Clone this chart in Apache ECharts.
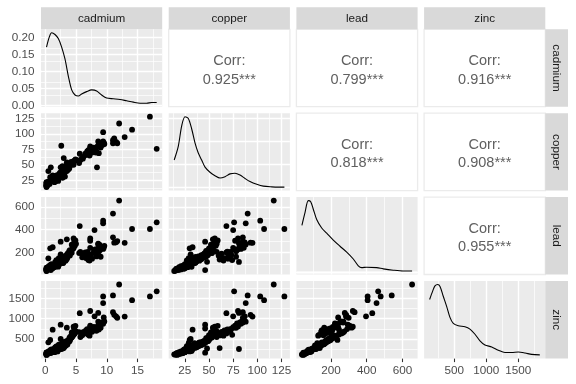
<!DOCTYPE html>
<html><head><meta charset="utf-8">
<script src="https://cdn.jsdelivr.net/npm/echarts@6/dist/echarts.min.js"></script>
<style>html,body{margin:0;padding:0;background:#fff}#c{width:576px;height:384px}</style>
</head><body><div id="c"></div>
<script>
// ---- data ----
const variables = ['cadmium', 'copper', 'lead', 'zinc'];

const cadmium = [
 0.2,0.2,0.2,0.2,0.3,0.2,0.4,0.2,0.5,0.2, 0.8,0.2,0.9,0.4,1.0,0.2,1.2,1.3,0.7,1.6,
 1.4,0.5,1.5,1.1,2.0,1.4,0.6,1.3,1.6,0.9, 1.8,1.7,1.2,2.0,0.8,1.9,2.1,1.5,2.2,1.0,
 1.8,2.3,2.6,1.4,2.4,2.8,1.7,2.2,3.0,2.5, 1.9,2.7,2.0,2.9,1.6,2.4,2.1,2.6,3.1,1.8,
 2.3,2.0,2.8,3.3,2.5,2.9,3.2,2.4,2.7,3.4, 2.2,3.0,3.6,2.6,3.1,3.5,2.8,3.3,2.8,2.8,
 3.4,0.5,3.7,3.2,3.9,3.5,0.8,3.6,4.0,3.8, 2.5,4.1,3.9,4.3,4.0,4.4,4.2,4.6,4.5,4.8,
 4.3,5.0,1.2,4.7,3.5,4.6,2.5,4.9,
 5.5,6.0,6.1,6.5,6.6,7.0,7.1,8.7,6.8,7.4, 7.6,7.9,8.1,8.3,8.5,8.9,9.2,8.4,6.2,7.3,
 9.6,8.8,7.3,6.9,9.0,5.7,7.2,9.4,8.2,8.6,
 12.0,18.1,17.0,9.4,11.0,14.1,9.4,5.6,7.3,8.6,8.0,9.5,11.0,11.2,11.5,11.7,12.9
];
const copper = [
 17,15,14,18,16,20,19,16,22,21, 23,17,46,20,24,22,25,24,19,24,
 25,23,22,26,30,26,21,27,32,23, 26,24,28,27,25,29,24,30,31,27,
 25,33,81,28,30,48,32,29,61,34, 31,36,33,35,28,37,30,38,36,33,
 35,27,39,40,32,35,31,37,41,42, 34,38,43,36,44,40,39,45,35,29,
 46,40,42,47,44,49,30,45,48,50, 31,51,47,53,49,52,55,50,54,57,
 52,58,33,56,54,56,46,59,
 53,62,60,68,66,74,69,69,72,73, 70,78,76,72,80,79,82,46,63,75,
 84,85,77,72,78,58,65,83,70,88,
 117,76,128,103,90,107,88,68,80,81,75,86,85,93,87,85,95
];
const lead = [
 45,39,37,48,50,54,47,55,60,51, 62,58,45,64,56,66,60,67,70,80,
 86,72,76,68,90,75,79,73,74,81, 84,85,70,92,88,78,75,95,89,98,
 97,102,116,91,108,117,99,112,137,104, 118,110,122,106,114,120,109,128,124,131,
 116,130,141,127,136,110,132,133,145,139, 150,147,156,160,152,142,165,158,123,150,
 170,148,175,165,181,178,236,190,172,198, 183,205,212,196,220,228,215,236,245,258,
 268,275,245,290,315,322,294,305,
 194,157,170,199,150,133,148,207,162,180, 145,210,226,165,230,222,250,195,189,240,
 258,268,302,205,162,205,128,230,185,270,
 654,464,405,478,540,405,455,431,322,277,396,240,332,285,288,299,284
];
const zinc = [
 113,119,126,131,136,140,142,145,150,155, 158,162,167,167,172,176,180,180,183,183,
 189,190,194,196,198,200,199,207,208,210, 213,218,222,224,228,232,240,241,245,248,
 251,254,257,260,263,269,272,275,281,283, 286,290,293,296,298,299,305,310,314,318,
 321,326,330,334,338,343,346,347,352,358, 362,365,370,375,381,386,392,397,402,406,
 412,421,427,435,442,450,480,458,466,477, 504,512,525,537,550,566,582,598,615,640,
 662,690,731,745,780,805,854,826,
 673,593,640,640,711,606,711,735,746,746, 680,801,784,703,812,887,907,760,676,793,
 933,906,833,685,778,549,585,875,722,928,
 1839,1672,1548,1548,1571,1454,1383,1136,1190,1141,1060,1032,1161,1096,1058,1022,1052
];

// density curves on the diagonal, [value, density]
const cadmiumDensity = [[0.2,0.172],[0.66,0.202],[1.04,0.214],[1.58,0.209],[2.12,0.197],[2.66,0.172],[3.2,0.137],[3.75,0.086],[4.29,0.046],[4.83,0.031],[5.37,0.028],[5.91,0.034],[6.72,0.041],[7.54,0.046],[8.35,0.043],[9.16,0.031],[9.97,0.022],[11.06,0.020],[12.14,0.018],[13.22,0.014],[14.3,0.010],[15.39,0.007],[16.47,0.007],[17.28,0.009],[18.1,0.009]];
const copperDensity = [[14,0.0118],[18.2,0.0177],[21.8,0.0267],[25.2,0.0305],[28.6,0.0297],[32.1,0.0252],[35.5,0.0192],[38.9,0.0148],[42.4,0.0118],[45.9,0.0087],[51,0.0065],[56.2,0.0050],[61.4,0.0040],[66.6,0.0046],[71.7,0.0058],[76.9,0.0061],[82.1,0.0053],[87.3,0.0038],[92.4,0.0025],[99.4,0.0013],[106.2,0.0005],[114.9,0.0002],[121.7,0.0001],[128,0.0001]];
const leadDensity = [[37,0.0036],[54.3,0.00458],[72.8,0.0055],[86.2,0.00542],[100.8,0.00484],[119.8,0.00405],[147.8,0.0034],[175.8,0.0030],[212.8,0.00247],[250.3,0.0020],[287.8,0.00155],[324.8,0.00102],[352.8,0.0005],[371.8,0.00036],[399.8,0.00039],[455.8,0.00036],[492.8,0.00026],[548.8,0.00016],[604.8,0.0001],[654,0.0001]];
const zincDensity = [[113,0.00126],[161,0.00144],[197,0.00155],[240,0.00158],[276,0.00154],[327,0.00133],[381,0.00111],[432,0.00088],[484,0.00075],[562,0.00070],[667,0.00068],[745,0.00063],[824,0.00052],[902,0.00038],[980,0.00029],[1086,0.00025],[1189,0.00018],[1294,0.00013],[1399,0.00013],[1502,0.00014],[1608,0.00012],[1712,0.00009],[1839,0.00008]];

const corrPairs = [[0,1],[0,2],[0,3],[1,2],[1,3],[2,3]];
const corrValues = ['0.925***','0.799***','0.916***','0.818***','0.908***','0.955***'];

const varTicks = [[0,5,10,15],[25,50,75,100,125],[200,400,600],[500,1000,1500]];
const varMinor = [[2.5,7.5,12.5,17.5],[12.5,37.5,62.5,87.5,112.5],[100,300,500],[250,750,1250,1750]];
const densTicks = [[0,0.05,0.1,0.15,0.2],[0,0.01,0.02,0.03],[0,0.002,0.004],[0,0.0005,0.001,0.0015]];
const densMinor = [[0.025,0.075,0.125,0.175],[0.005,0.015,0.025],[0.001,0.003,0.005],[0.00025,0.00075,0.00125]];

// ---- chart ----
const vars = [cadmium, copper, lead, zinc];
const densities = [cadmiumDensity, copperDensity, leadDensity, zincDensity];
const FONT = '"Liberation Sans", Arial, Helvetica, sans-serif';
const colLeft = [41, 168.7, 296.4, 424.1], rowTop = [29.3, 113.2, 197.1, 281.0];
const PW = 121.2, PH = 77.4;

function ext(a) { const mn = Math.min(...a), mx = Math.max(...a), p = (mx - mn) * 0.05; return [mn - p, mx + p]; }
const inR = (v, r) => v >= r[0] && v <= r[1];

const grids = [], xAxes = [], yAxes = [], series = [], graphics = [];
for (let r = 0; r < 4; r++) {
  for (let c = 0; c < 4; c++) {
    const g = grids.length;
    const upper = r < c, diag = r === c;
    grids.push({ left: colLeft[c], top: rowTop[r], width: PW, height: PH, show: true, z: 0,
      backgroundColor: upper ? '#FFFFFF' : '#EBEBEB', borderColor: '#EBEBEB', borderWidth: upper ? 1.3 : 0 });
    const xr = ext(vars[c]);
    const yr = diag ? ext(densities[c].map(p => p[1])) : ext(vars[r]);
    const yt = diag ? densTicks[c] : varTicks[r];
    const ym = diag ? densMinor[c] : varMinor[r];
    xAxes.push({ gridIndex: g, type: 'value', show: !upper, min: xr[0], max: xr[1],
      axisLine: { show: false }, splitLine: { show: false },
      axisTick: { show: r === 3, customValues: varTicks[c], length: 3.7, lineStyle: { color: '#333333', width: 1.07 } },
      axisLabel: { show: r === 3, customValues: varTicks[c], color: '#4D4D4D', fontSize: 11.7, fontFamily: FONT, margin: 6.5,
        formatter: v => String(v) } });
    yAxes.push({ gridIndex: g, type: 'value', show: !upper, min: yr[0], max: yr[1],
      axisLine: { show: false }, splitLine: { show: false },
      axisTick: { show: c === 0, customValues: yt, length: 3.7, lineStyle: { color: '#333333', width: 1.07 } },
      axisLabel: { show: c === 0, customValues: yt, color: '#4D4D4D', fontSize: 11.7, fontFamily: FONT, margin: 6.5,
        formatter: (r === 0 && c === 0) ? (v => v.toFixed(2)) : (v => String(v)) } });
    if (upper) {
      const k = corrPairs.findIndex(p => p[0] === r && p[1] === c);
      const cx = colLeft[c] + PW / 2, cy = rowTop[r] + PH / 2;
      graphics.push({ type: 'text', x: cx, y: cy - 7, silent: true,
        style: { text: 'Corr:', x: 0, y: 0, textAlign: 'center', textVerticalAlign: 'middle', fill: '#606060', font: '14.5px ' + FONT } });
      graphics.push({ type: 'text', x: cx, y: cy + 11.5, silent: true,
        style: { text: corrValues[k], x: 0, y: 0, textAlign: 'center', textVerticalAlign: 'middle', fill: '#606060', font: '14.5px ' + FONT } });
      continue;
    }
    const major = varTicks[c].filter(v => inR(v, xr)).map(v => ({ xAxis: v }))
      .concat(yt.filter(v => inR(v, yr)).map(v => ({ yAxis: v })));
    const minor = varMinor[c].filter(v => inR(v, xr)).map(v => ({ xAxis: v }))
      .concat(ym.filter(v => inR(v, yr)).map(v => ({ yAxis: v })));
    [[minor, 0.7, 1], [major, 1.4, 2]].forEach(([d, w, zz]) => {
      series.push({ type: 'line', xAxisIndex: g, yAxisIndex: g, data: [], silent: true, z: zz,
        markLine: { z: zz, silent: true, animation: false, symbol: ['none', 'none'], label: { show: false },
          emphasis: { disabled: true }, lineStyle: { color: '#FFFFFF', width: w, type: 'solid', opacity: 1 }, data: d } });
    });
    if (diag) {
      series.push({ type: 'line', xAxisIndex: g, yAxisIndex: g, data: densities[c], smooth: 0.3, symbol: 'none',
        silent: true, z: 10, lineStyle: { color: '#000000', width: 1.1 } });
    } else {
      series.push({ type: 'scatter', xAxisIndex: g, yAxisIndex: g, silent: true, z: 10,
        data: vars[c].map((v, i) => [v, vars[r][i]]), symbolSize: 5.8, itemStyle: { color: '#000000', opacity: 1 } });
    }
  }
}
// strips
for (let c = 0; c < 4; c++) {
  graphics.push({ type: 'rect', silent: true, shape: { x: colLeft[c], y: 7.3, width: PW, height: 22 }, style: { fill: '#D9D9D9' } });
  graphics.push({ type: 'text', silent: true, x: colLeft[c] + PW / 2, y: 18.5,
    style: { text: variables[c], x: 0, y: 0, textAlign: 'center', textVerticalAlign: 'middle', fill: '#1A1A1A', font: '11.7px ' + FONT } });
}
for (let r = 0; r < 4; r++) {
  graphics.push({ type: 'rect', silent: true, shape: { x: 545.3, y: rowTop[r], width: 22.7, height: PH }, style: { fill: '#D9D9D9' } });
  graphics.push({ type: 'text', silent: true, x: 556.6, y: rowTop[r] + PH / 2, rotation: -Math.PI / 2,
    style: { text: variables[r], x: 0, y: 0, textAlign: 'center', textVerticalAlign: 'middle', fill: '#1A1A1A', font: '11.7px ' + FONT } });
}

const chart = echarts.init(document.getElementById('c'), null, { renderer: 'canvas', width: 576, height: 384 });
chart.setOption({
  animation: false,
  backgroundColor: '#FFFFFF',
  grid: grids, xAxis: xAxes, yAxis: yAxes, series: series,
  graphic: { elements: graphics }
});
</script>
</body></html>
